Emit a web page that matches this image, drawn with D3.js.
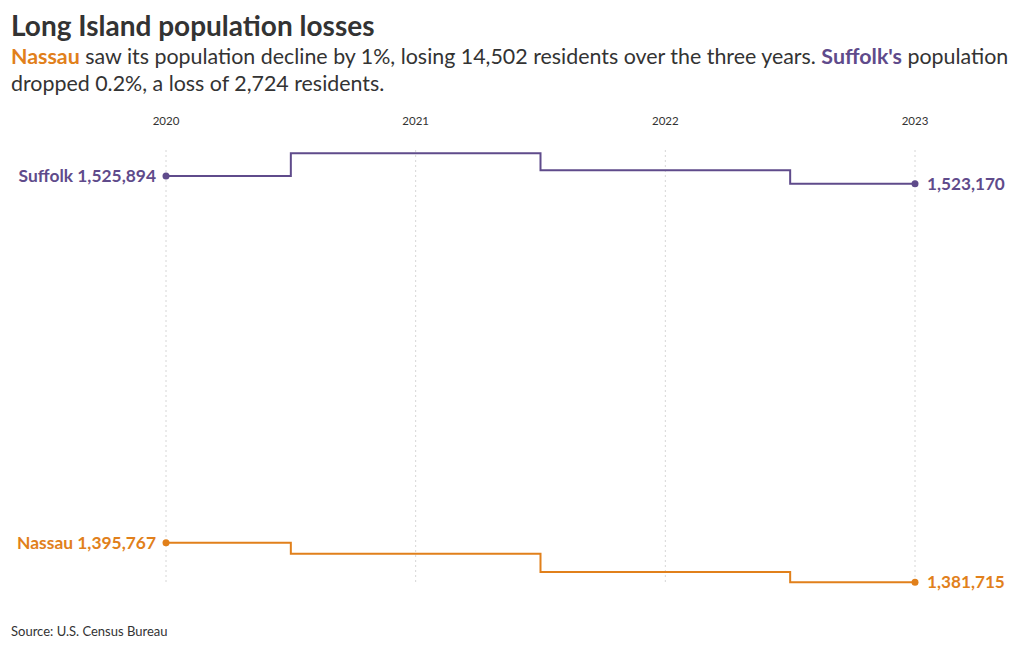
<!DOCTYPE html>
<html lang="en">
<head>
  <meta charset="UTF-8" />
  <title>Long Island population losses</title>
  <script src="https://d3js.org/d3.v7.min.js"></script>
  <style>
    body {
      margin: 0;
      background: #fff;
      font-family: 'Lato', 'Noto Sans', sans-serif;
      color: #333;
    }
    svg { display: block; }
    .grid line { stroke: #d6d6d6; stroke-dasharray: 2 3; }
  </style>
</head>
<body>
  <svg width="1020" height="650"></svg>

  <script>
    const years   = [2020, 2021, 2022, 2023];
    const suffolk = [1525894, 1533950, 1527920, 1523170];
    const nassau  = [1395767, 1391870, 1385370, 1381715];

    const series = [
      { name: "Suffolk", values: suffolk, color: "#5f4b8b" },
      { name: "Nassau",  values: nassau,  color: "#e1801b" }
    ];

    const width = 1020, height = 650;
    const svg = d3.select("svg");

    const x = d3.scalePoint().domain(years).range([166, 915]);
    const y = d3.scaleLinear()
      .domain([d3.min(nassau), d3.max(suffolk)])
      .range([582.3, 153.3]);

    // header
    svg.append("text")
      .attr("x", 11).attr("y", 36)
      .attr("font-size", 28).attr("font-weight", 700)
      .attr("fill", "#333")
      .text("Long Island population losses");

    const sub1 = svg.append("text").attr("x", 11).attr("y", 64)
      .attr("font-size", 21.4).attr("fill", "#333");
    sub1.append("tspan").attr("font-weight", 700).attr("fill", "#e1801b").text("Nassau");
    sub1.append("tspan").text(" saw its population decline by 1%, losing 14,502 residents over the three years. ");
    sub1.append("tspan").attr("font-weight", 700).attr("fill", "#5f4b8b").text("Suffolk's");
    sub1.append("tspan").text(" population");

    svg.append("text").attr("x", 11).attr("y", 91)
      .attr("font-size", 21.4).attr("fill", "#333")
      .text("dropped 0.2%, a loss of 2,724 residents.");

    // x axis labels on top
    svg.append("g").selectAll("text").data(years).join("text")
      .attr("x", d => x(d)).attr("y", 125)
      .attr("text-anchor", "middle")
      .attr("font-size", 11.5).attr("fill", "#333")
      .text(d => d);

    // dotted gridlines
    svg.append("g").attr("class", "grid")
      .selectAll("line").data(years).join("line")
      .attr("x1", d => x(d)).attr("x2", d => x(d))
      .attr("y1", 150).attr("y2", 584);

    const line = d3.line()
      .x((d, i) => x(years[i]))
      .y(d => y(d))
      .curve(d3.curveStep);

    const fmt = d3.format(",");

    series.forEach(s => {
      svg.append("path")
        .datum(s.values)
        .attr("fill", "none")
        .attr("stroke", s.color)
        .attr("stroke-width", 2)
        .attr("d", line);

      const first = s.values[0], last = s.values[s.values.length - 1];

      svg.append("circle")
        .attr("cx", x(years[0])).attr("cy", y(first)).attr("r", 3.5)
        .attr("fill", s.color);
      svg.append("circle")
        .attr("cx", x(years[years.length - 1])).attr("cy", y(last)).attr("r", 3.5)
        .attr("fill", s.color);

      svg.append("text")
        .attr("x", x(years[0]) - 10).attr("y", y(first))
        .attr("dy", "0.35em").attr("text-anchor", "end")
        .attr("font-size", 17.4).attr("font-weight", 700).attr("fill", s.color)
        .text(`${s.name} ${fmt(first)}`);

      svg.append("text")
        .attr("x", x(years[years.length - 1]) + 12).attr("y", y(last))
        .attr("dy", "0.35em")
        .attr("font-size", 17.2).attr("font-weight", 700).attr("fill", s.color)
        .text(fmt(last));
    });

    svg.append("text")
      .attr("x", 11).attr("y", 636)
      .attr("font-size", 13).attr("fill", "#333")
      .text("Source: U.S. Census Bureau");
  </script>
</body>
</html>
